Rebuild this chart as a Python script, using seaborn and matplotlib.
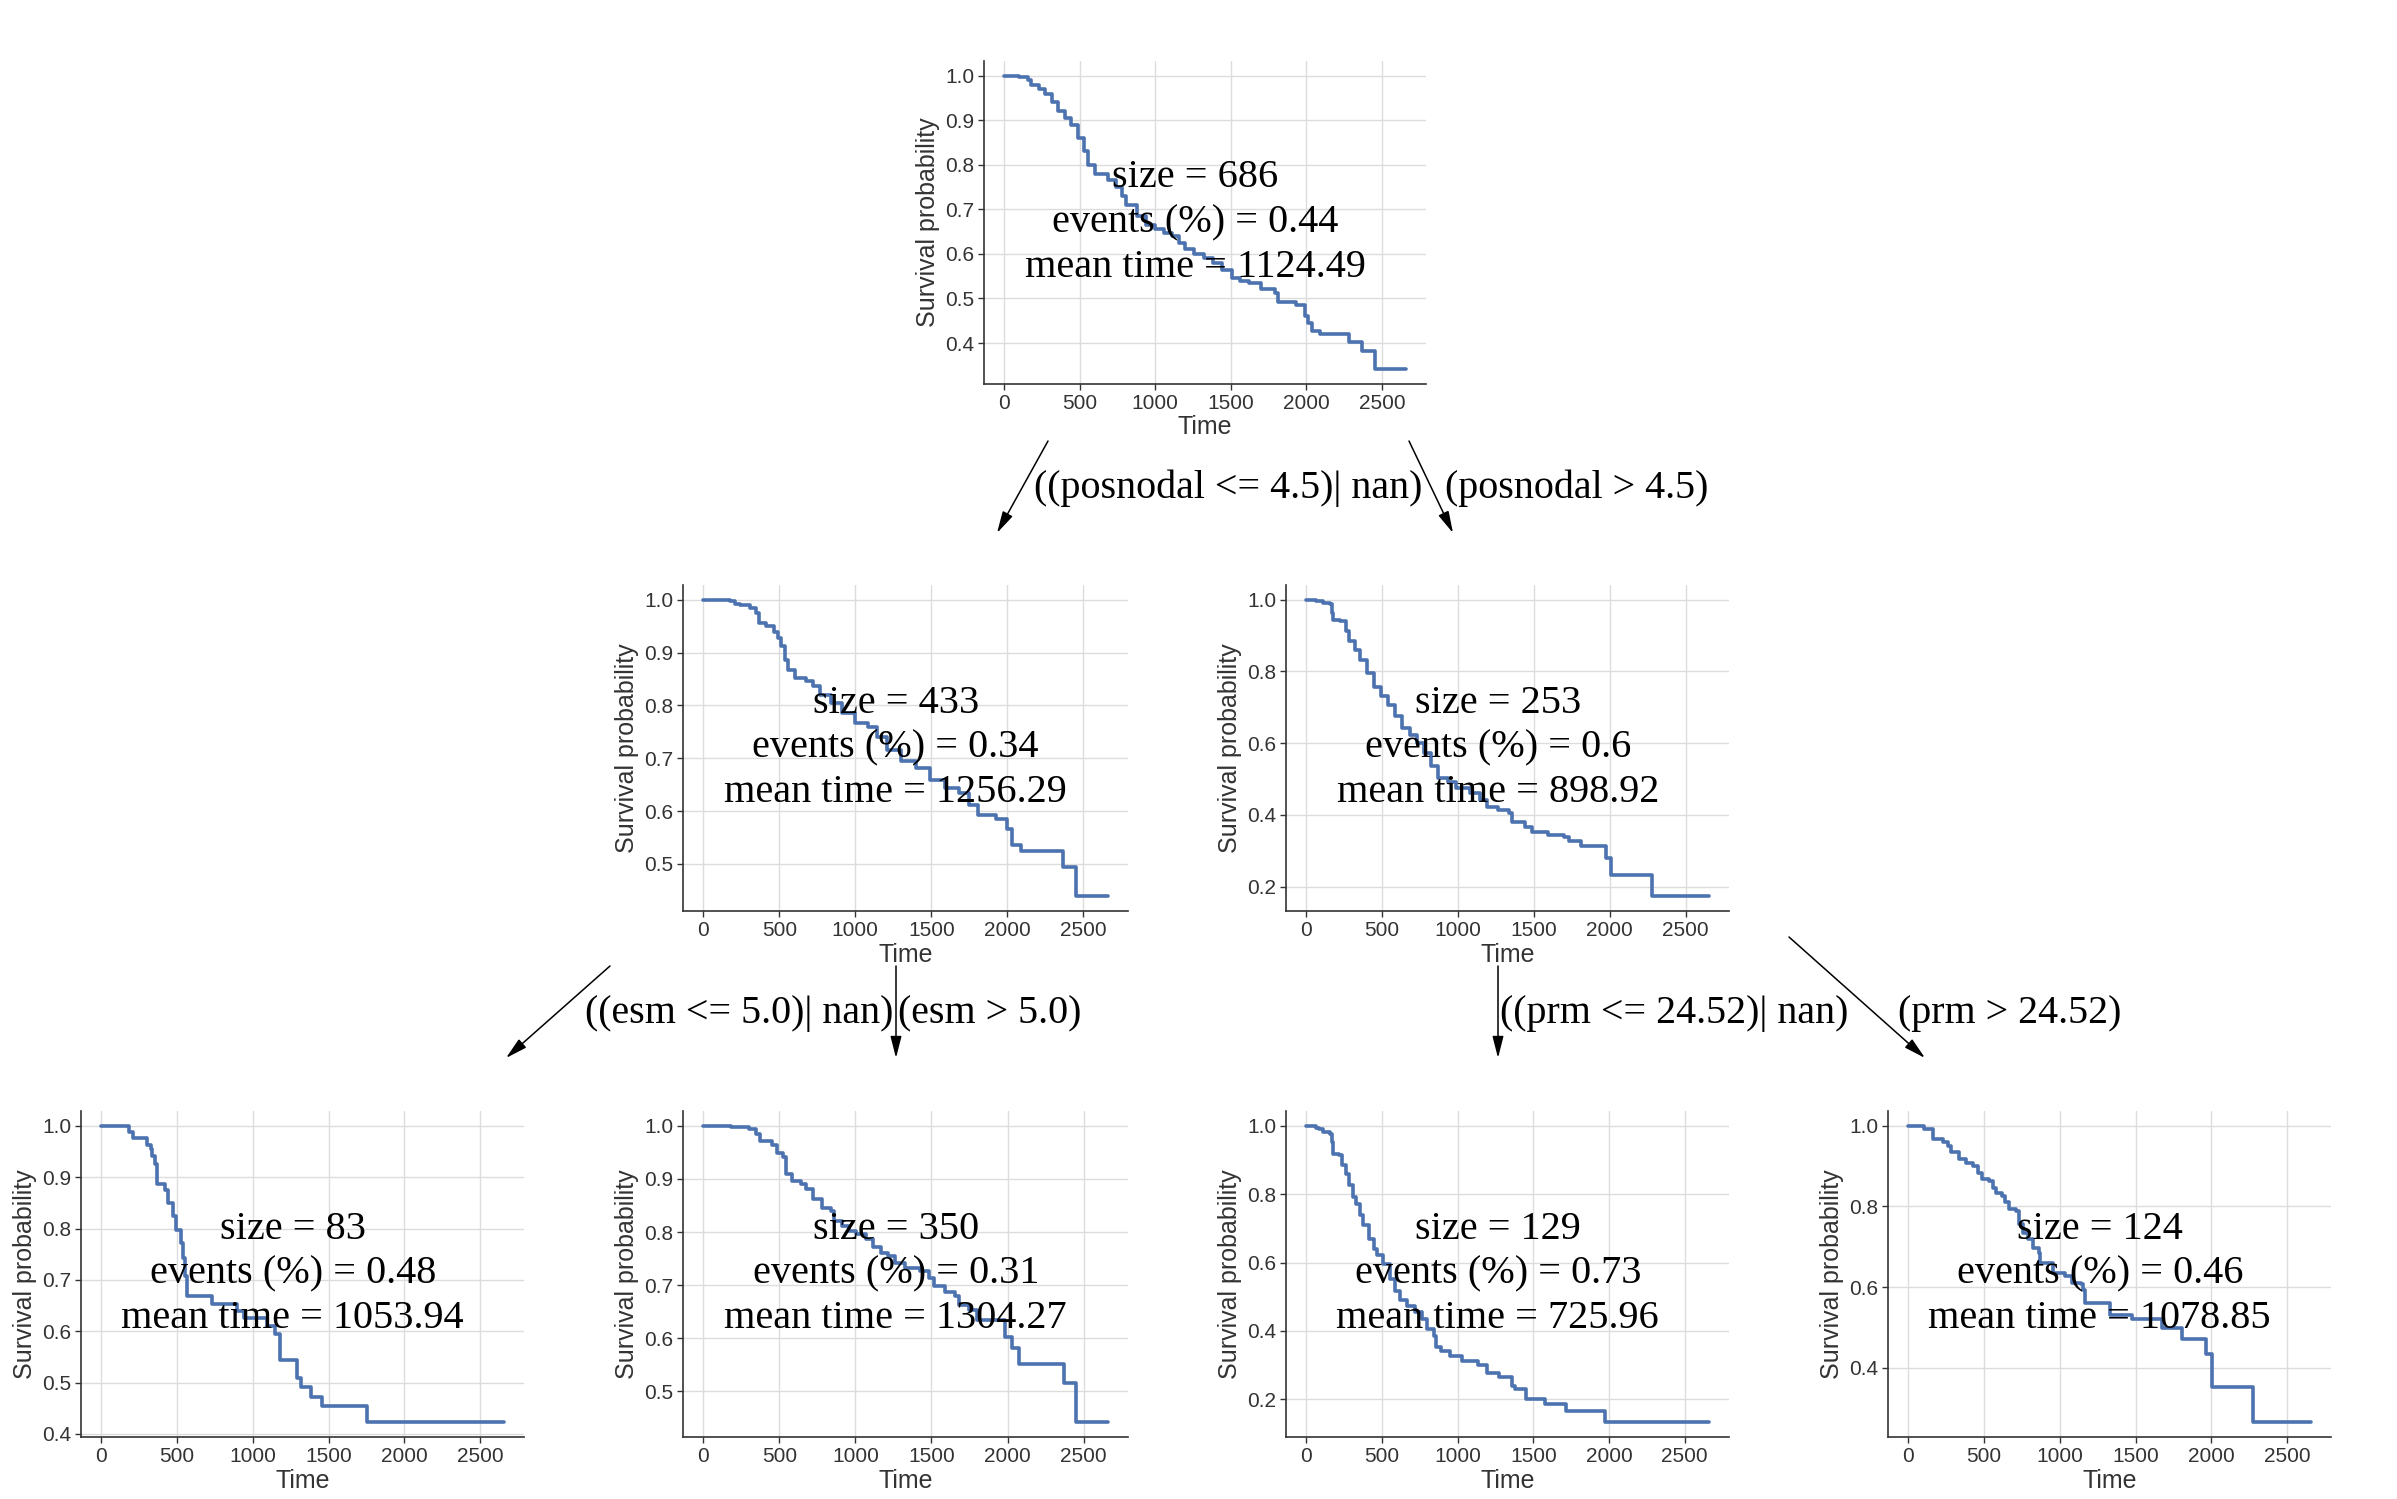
import matplotlib
matplotlib.use("Agg")
import matplotlib.pyplot as plt
from matplotlib.patches import FancyArrowPatch
from matplotlib.ticker import MultipleLocator
import pandas as pd
import seaborn as sns

# ---------------- data ----------------
node0_time = [0, 100, 160, 180, 230, 270, 320, 360, 400, 440, 490, 530, 555, 600, 690, 740, 780, 810,
              880, 940, 1000, 1060, 1110, 1160, 1200, 1260, 1320, 1380, 1440, 1510, 1560, 1620, 1700,
              1790, 1810, 1930, 1990, 2010, 2035, 2090, 2280, 2366, 2452, 2659]
node0_surv = [1.0, 0.997, 0.99, 0.98, 0.97, 0.96, 0.94, 0.92, 0.905, 0.89, 0.86, 0.83, 0.80, 0.78, 0.765,
              0.75, 0.73, 0.71, 0.685, 0.665, 0.655, 0.648, 0.64, 0.625, 0.61, 0.60, 0.59, 0.58, 0.565,
              0.545, 0.54, 0.534, 0.522, 0.512, 0.493, 0.486, 0.46, 0.445, 0.427, 0.421, 0.402, 0.381,
              0.341, 0.341]

node1_time = [0, 175, 210, 245, 310, 345, 365, 415, 465, 490, 512, 535, 558, 605, 675, 720, 770, 840,
              910, 1000, 1085, 1140, 1210, 1300, 1400, 1490, 1590, 1680, 1750, 1810, 1925, 1995, 2030,
              2090, 2369, 2451, 2661]
node1_surv = [1.0, 0.997, 0.993, 0.99, 0.985, 0.975, 0.956, 0.95, 0.94, 0.928, 0.912, 0.887, 0.868,
              0.852, 0.846, 0.836, 0.82, 0.804, 0.785, 0.766, 0.76, 0.741, 0.716, 0.694, 0.681, 0.659,
              0.643, 0.634, 0.611, 0.592, 0.586, 0.567, 0.535, 0.525, 0.494, 0.439, 0.439]

node2_time = [0, 63, 110, 156, 168, 180, 226, 261, 285, 320, 354, 401, 448, 494, 541, 588, 634, 681,
              727, 774, 821, 867, 937, 984, 1077, 1147, 1194, 1264, 1334, 1357, 1439, 1486, 1590, 1695,
              1730, 1812, 1975, 2010, 2278, 2652]
node2_surv = [1.0, 0.996, 0.992, 0.987, 0.964, 0.945, 0.94, 0.912, 0.884, 0.861, 0.833, 0.796, 0.758,
              0.731, 0.707, 0.675, 0.642, 0.623, 0.60, 0.572, 0.535, 0.502, 0.493, 0.474, 0.46, 0.441,
              0.423, 0.414, 0.404, 0.381, 0.367, 0.353, 0.344, 0.339, 0.327, 0.314, 0.28, 0.231, 0.173,
              0.173]

node3_time = [0, 186, 210, 303, 326, 338, 357, 366, 419, 443, 473, 494, 529, 541, 555, 566, 734, 897,
              944, 1095, 1146, 1177, 1293, 1321, 1387, 1456, 1752, 2656]
node3_surv = [1.0, 0.988, 0.976, 0.963, 0.954, 0.941, 0.925, 0.886, 0.876, 0.85, 0.824, 0.797, 0.772,
              0.743, 0.707, 0.668, 0.654, 0.64, 0.626, 0.61, 0.594, 0.545, 0.509, 0.492, 0.473, 0.454,
              0.423, 0.423]

node4_time = [0, 185, 231, 301, 348, 371, 453, 488, 523, 547, 582, 640, 675, 722, 780, 839, 862, 909,
              956, 1002, 1072, 1119, 1166, 1213, 1259, 1329, 1423, 1481, 1516, 1586, 1657, 1680, 1750,
              1797, 1984, 2030, 2077, 2369, 2451, 2659]
node4_surv = [1.0, 0.998, 0.997, 0.994, 0.985, 0.971, 0.963, 0.948, 0.941, 0.91, 0.897, 0.891, 0.881,
              0.862, 0.846, 0.84, 0.821, 0.812, 0.802, 0.796, 0.786, 0.771, 0.761, 0.755, 0.742, 0.733,
              0.726, 0.714, 0.698, 0.688, 0.679, 0.663, 0.654, 0.635, 0.603, 0.581, 0.551, 0.515, 0.442,
              0.442]

node5_time = [0, 63, 86, 110, 156, 168, 180, 215, 238, 261, 285, 308, 331, 354, 378, 413, 448, 471, 506,
              553, 588, 623, 669, 716, 762, 798, 844, 856, 891, 949, 1031, 1136, 1194, 1276, 1357, 1381,
              1451, 1579, 1719, 1975, 2659]
node5_surv = [1.0, 0.995, 0.99, 0.982, 0.977, 0.953, 0.919, 0.914, 0.885, 0.86, 0.826, 0.792, 0.772,
              0.738, 0.709, 0.669, 0.64, 0.621, 0.596, 0.552, 0.518, 0.489, 0.474, 0.454, 0.435, 0.405,
              0.386, 0.352, 0.342, 0.327, 0.312, 0.301, 0.278, 0.266, 0.239, 0.229, 0.20, 0.185, 0.166,
              0.133, 0.133]

node6_time = [0, 107, 166, 231, 266, 282, 336, 382, 429, 464, 487, 534, 557, 581, 616, 639, 662, 709,
              732, 756, 791, 826, 861, 872, 954, 1035, 1082, 1140, 1152, 1164, 1332, 1478, 1677, 1805,
              1964, 2003, 2276, 2656]
node6_surv = [1.0, 0.992, 0.967, 0.96, 0.95, 0.935, 0.917, 0.909, 0.901, 0.884, 0.868, 0.863, 0.847,
              0.834, 0.826, 0.81, 0.793, 0.789, 0.756, 0.735, 0.719, 0.698, 0.685, 0.661, 0.636, 0.627,
              0.611, 0.607, 0.594, 0.561, 0.532, 0.52, 0.499, 0.472, 0.435, 0.353, 0.265, 0.265]

node_sizes = [686, 433, 253, 83, 350, 129, 124]
node_events = [0.44, 0.34, 0.6, 0.48, 0.31, 0.73, 0.46]
node_mean_times = [1124.49, 1256.29, 898.92, 1053.94, 1304.27, 725.96, 1078.85]
ytick_steps = [0.1, 0.1, 0.2, 0.1, 0.1, 0.2, 0.2]
xtick_step = 500

split_labels = ["((posnodal <= 4.5)| nan)", "(posnodal > 4.5)",
                "((esm <= 5.0)| nan)", "(esm > 5.0)",
                "((prm <= 24.52)| nan)", "(prm > 24.52)"]

node_times = [node0_time, node1_time, node2_time, node3_time, node4_time, node5_time, node6_time]
node_survs = [node0_surv, node1_surv, node2_surv, node3_surv, node4_surv, node5_surv, node6_surv]

# ---------------- layout (pixels of the 2397x1499 canvas) ----------------
W, H = 2397, 1499
axes_px = [
    (984, 61, 442, 323),
    (683, 585, 445, 326),
    (1286, 585, 443, 326),
    (81, 1111, 443, 326),
    (683, 1111, 445, 326),
    (1286, 1111, 443, 326),
    (1888, 1111, 443, 326),
]
label_px = [(1228, 488), (1577, 488), (739, 1014), (990, 1014), (1674, 1014), (2010, 1014)]
arrow_px = [((1048, 441), (997, 533)), ((1409, 441), (1453, 533)),
            ((610, 966), (506, 1058)), ((896, 966), (896, 1058)),
            ((1498, 966), (1498, 1058)), ((1789, 937), (1925, 1058))]


def fx(x):
    return x / W


def fy(y):
    return 1 - y / H


sns.set_theme(style="whitegrid")
plt.rcParams["font.family"] = ["Liberation Sans", "DejaVu Sans"]
serif = ["Liberation Serif", "DejaVu Serif"]

LINE = "#4C72B0"
DARK = "#333333"
GRID = "#DCDCDC"

fig = plt.figure(figsize=(W / 100, H / 100), dpi=100)
fig.patch.set_facecolor("white")

for i in range(7):
    x, y, w, h = axes_px[i]
    ax = fig.add_axes([fx(x), fy(y + h), w / W, h / H])
    df = pd.DataFrame({"Time": node_times[i], "Survival probability": node_survs[i]})
    sns.lineplot(data=df, x="Time", y="Survival probability", ax=ax, color=LINE,
                 linewidth=2.6, drawstyle="steps-post", estimator=None, sort=False,
                 errorbar=None)
    ax.set_facecolor("white")
    ax.xaxis.set_major_locator(MultipleLocator(xtick_step))
    ax.yaxis.set_major_locator(MultipleLocator(ytick_steps[i]))
    ax.grid(True, color=GRID, linewidth=1.0)
    ax.set_axisbelow(True)
    for s in ["top", "right"]:
        ax.spines[s].set_visible(False)
    for s in ["left", "bottom"]:
        ax.spines[s].set_color(DARK)
        ax.spines[s].set_linewidth(1.2)
    ax.tick_params(axis="both", which="major", direction="out", length=4, width=1.0,
                   color=DARK, labelcolor=DARK, labelsize=15, left=True, bottom=True, pad=3)
    ax.set_xlabel("Time", fontsize=18, color=DARK, labelpad=2)
    ax.set_ylabel("Survival probability", fontsize=18, color=DARK, labelpad=4)
    txt = (f"size = {node_sizes[i]}\nevents (%) = {node_events[i]}\n"
           f"mean time = {node_mean_times[i]}")
    ax.text(0.478, 0.5, txt, transform=ax.transAxes, ha="center", va="center",
            fontsize=29, family=serif, color="black", zorder=10, linespacing=1.28)

for (lx, ly), lab in zip(label_px, split_labels):
    fig.text(fx(lx), fy(ly), lab, ha="center", va="center", fontsize=28.8,
             family=serif, color="black")

for (a, b) in arrow_px:
    arr = FancyArrowPatch((fx(a[0]), fy(a[1])), (fx(b[0]), fy(b[1])),
                          transform=fig.transFigure,
                          arrowstyle="-|>,head_length=1.1,head_width=0.28",
                          mutation_scale=12, color="black", lw=1.1,
                          shrinkA=0, shrinkB=0)
    fig.add_artist(arr)

fig.savefig("out.png", dpi=100, facecolor="white")
